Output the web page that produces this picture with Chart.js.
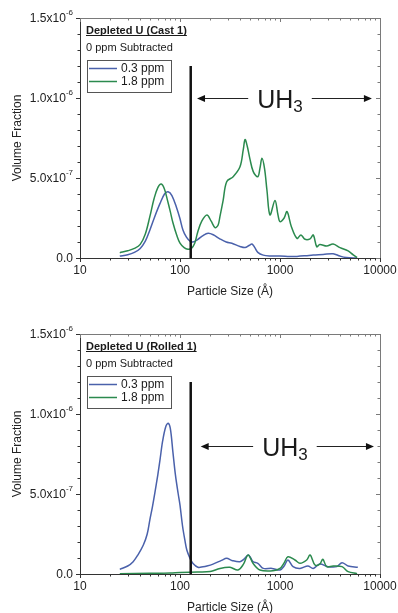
<!DOCTYPE html>
<html><head><meta charset="utf-8">
<script src="https://cdn.jsdelivr.net/npm/chart.js@4"></script>
<style>
html,body{margin:0;padding:0;background:#fff;width:398px;height:613px;overflow:hidden}
canvas{position:absolute;left:0}
</style></head><body>
<canvas id="c1" width="398" height="306" style="top:0"></canvas>
<canvas id="c2" width="398" height="307" style="top:306px"></canvas>
<script>
// ---------- data ----------
const seriesLabels = ['0.3 ppm', '1.8 ppm'];
const seriesColors = ['#4a61ab', '#2b8a4e'];
const panelTitles = ['Depleted U (Cast 1)', 'Depleted U (Rolled 1)'];
const subtitle = '0 ppm Subtracted';
const xTickValues = [10, 100, 1000, 10000];
const xTickLabels = ['10', '100', '1000', '10000'];
const yTickValues = [0, 5e-7, 1e-6, 1.5e-6];
const yTickMantissa = ['0.0', '5.0x10', '1.0x10', '1.5x10'];
const yTickExponent = ['', '-7', '-6', '-6'];
const xTitle = 'Particle Size (Å)';
const yTitle = 'Volume Fraction';
const UNIT = 1e-7; // values below are in units of 1e-7

// Cast 1, 0.3 ppm
const castSize03 = [25,30,35,40,45,50,56,63,70,76,83,93,100,107,116,126,135,150,170,191,215,250,290,330,398,447,490,525,560,600,680,794,1000,1250,1479,1800,2150,2700,3400,3980,4600,5900];
const castVol03  = [0.12,0.2,0.35,0.6,1.05,1.75,2.6,3.4,4.0,4.14,3.9,3.1,2.45,1.75,1.3,1.05,1.0,1.15,1.4,1.54,1.45,1.2,1.0,0.92,0.72,0.65,0.78,0.875,0.65,0.35,0.18,0.13,0.13,0.1,0.1,0.14,0.19,0.22,0.27,0.12,0.03,0.0];
// Cast 1, 1.8 ppm
const castSize18 = [25,30,35,40,45,50,55,60,65,70,75,80,85,93,100,110,120,130,140,150,165,186,205,224,240,251,270,293,340,398,430,447,470,500,540,600,630,660,700,740,794,891,955,1000,1100,1175,1300,1479,1620,1780,2000,2150,2330,2500,2930,3400,3980,4800,5400,5900];
const castVol18  = [0.33,0.45,0.6,0.85,1.5,2.6,3.7,4.4,4.62,4.3,3.6,2.9,2.2,1.4,0.93,0.65,0.55,0.6,0.9,1.6,2.3,2.69,2.3,1.9,2.05,2.6,3.6,4.77,5.08,5.7,6.8,7.4,7.0,6.2,5.4,5.08,5.6,6.23,5.6,4.25,2.69,3.6,2.69,2.27,2.5,2.9,1.96,1.23,1.44,1.17,1.2,1.44,0.7,0.85,0.75,0.875,0.65,0.44,0.2,0.03];
// Rolled 1, 0.3 ppm
const rolledSize03 = [25,30,34,38,43,47,50,53,56,60,63,67,72,76,80,85,90,96,100,106,112,117,126,135,151,170,186,214,260,293,330,398,440,480,510,537,600,680,830,1000,1100,1200,1350,1585,1900,2150,2500,3020,3700,4170,4800,6000];
const rolledVol03  = [0.29,0.5,0.77,1.2,1.81,2.5,3.4,4.2,5.06,6.2,7.1,8.3,9.2,9.42,9.1,7.6,6.2,5.0,4.3,3.0,2.1,1.5,0.98,0.65,0.42,0.45,0.5,0.62,0.85,0.98,0.85,0.77,0.95,1.19,1.0,0.77,0.67,0.35,0.35,0.25,0.5,0.875,0.46,0.35,0.5,0.35,0.62,0.46,0.46,0.71,0.5,0.42];
// Rolled 1, 1.8 ppm
const rolledSize18 = [25,50,80,100,150,200,251,316,380,430,480,537,630,850,1000,1100,1200,1410,1585,1850,2000,2240,2500,2680,2930,3400,4170,4800,5900];
const rolledVol18  = [0.02,0.04,0.06,0.1,0.12,0.15,0.35,0.42,0.25,0.6,1.19,0.67,0.25,0.2,0.35,0.7,1.08,0.875,0.67,0.875,1.19,0.56,0.62,0.92,0.46,0.5,0.46,0.15,0.02];

// annotation values
const dividerSize = 128;
const dividerTop = 1.2e-6;
const arrowLevel = [1.0e-6, 0.8e-6];
const arrowFrom = [148, 161];
const arrowTo = [8300, 8700];
const arrowLabelAt = [1000, 1120];

// ---------- drawing ----------
const FONT = '"Liberation Sans", Arial, Helvetica, sans-serif';

function decor(idx) {
  return {
    id: 'decor' + idx,
    afterDraw(chart) {
      const ctx = chart.ctx, xs = chart.scales.x, ys = chart.scales.y, a = chart.chartArea;
      const L = a.left, R = a.right, T = a.top, B = a.bottom;
      ctx.save();
      // frame
      ctx.lineWidth = 1;
      ctx.strokeStyle = '#7a7a7a';
      ctx.beginPath();
      ctx.moveTo(L, T + 0.5); ctx.lineTo(R + 0.5, T + 0.5); ctx.lineTo(R + 0.5, B);
      ctx.stroke();
      ctx.strokeStyle = '#333';
      ctx.beginPath();
      ctx.moveTo(L + 0.5, T); ctx.lineTo(L + 0.5, B + 0.5); ctx.lineTo(R + 1, B + 0.5);
      ctx.stroke();
      // x ticks
      for (let d = 10; d <= 10000; d *= 10) {
        for (let m = 1; m <= 9; m++) {
          const v = d * m;
          if (v > 10000) break;
          const px = Math.round(xs.getPixelForValue(v)) + 0.5;
          const major = m === 1;
          const len = major ? 4 : 2.5;
          ctx.strokeStyle = '#333';
          ctx.beginPath(); ctx.moveTo(px, B); ctx.lineTo(px, B + len); ctx.stroke();
          ctx.strokeStyle = '#7a7a7a';
          ctx.beginPath(); ctx.moveTo(px, T); ctx.lineTo(px, T + len); ctx.stroke();
        }
      }
      // y ticks
      for (let k = 0; k <= 15; k++) {
        const py = Math.round(ys.getPixelForValue(k * 1e-7)) + 0.5;
        const major = k % 5 === 0;
        const len = major ? 4 : 2.5;
        ctx.strokeStyle = '#333';
        ctx.beginPath(); ctx.moveTo(L - len, py); ctx.lineTo(L, py); ctx.stroke();
        ctx.strokeStyle = '#7a7a7a';
        ctx.beginPath(); ctx.moveTo(R - len, py); ctx.lineTo(R, py); ctx.stroke();
      }
      // x tick labels
      ctx.fillStyle = '#222';
      ctx.font = '12px ' + FONT;
      ctx.textAlign = 'center'; ctx.textBaseline = 'top';
      xTickValues.forEach((v, i) => ctx.fillText(xTickLabels[i], xs.getPixelForValue(v), B + 7));
      // y tick labels with superscript exponent
      yTickValues.forEach((v, i) => {
        const py = ys.getPixelForValue(v);
        ctx.font = '8px ' + FONT;
        const ew = yTickExponent[i] ? ctx.measureText(yTickExponent[i]).width : 0;
        const right = L - 7;
        ctx.textAlign = 'right'; ctx.textBaseline = 'middle';
        if (ew) ctx.fillText(yTickExponent[i], right, py - 5);
        ctx.font = '12px ' + FONT;
        ctx.fillText(yTickMantissa[i], right - ew, py + 0.5);
      });
      // axis titles
      ctx.font = '12px ' + FONT;
      ctx.textAlign = 'center'; ctx.textBaseline = 'alphabetic';
      ctx.fillText(xTitle, (L + R) / 2, B + 37);
      ctx.save();
      ctx.translate(21, (T + B) / 2);
      ctx.rotate(-Math.PI / 2);
      ctx.fillText(yTitle, 0, 0);
      ctx.restore();
      // divider
      const dx = xs.getPixelForValue(dividerSize);
      ctx.strokeStyle = '#111'; ctx.lineWidth = 2.5;
      ctx.beginPath();
      ctx.moveTo(dx, ys.getPixelForValue(0)); ctx.lineTo(dx, ys.getPixelForValue(dividerTop));
      ctx.stroke();
      // UH3 arrows
      const ay = Math.round(ys.getPixelForValue(arrowLevel[idx])) + 0.5;
      const x0 = xs.getPixelForValue(arrowFrom[idx]);
      const x1 = xs.getPixelForValue(arrowTo[idx]);
      const xc = xs.getPixelForValue(arrowLabelAt[idx]);
      ctx.font = '25px ' + FONT;
      const wUH = ctx.measureText('UH').width;
      ctx.font = '17px ' + FONT;
      const w3 = ctx.measureText('3').width;
      const tw = wUH + w3;
      const tl = xc - tw / 2;
      ctx.fillStyle = '#1a1a1a';
      ctx.textAlign = 'left'; ctx.textBaseline = 'alphabetic';
      ctx.font = '25px ' + FONT;
      ctx.fillText('UH', tl, ay + 9.5);
      ctx.font = '17px ' + FONT;
      ctx.fillText('3', tl + wUH, ay + 13);
      ctx.strokeStyle = '#222'; ctx.lineWidth = 1;
      ctx.beginPath();
      ctx.moveTo(x0 + 6, ay); ctx.lineTo(tl - 9, ay);
      ctx.moveTo(tl + tw + 9, ay); ctx.lineTo(x1 - 6, ay);
      ctx.stroke();
      ctx.fillStyle = '#111';
      ctx.beginPath();
      ctx.moveTo(x0, ay); ctx.lineTo(x0 + 8, ay - 3.5); ctx.lineTo(x0 + 8, ay + 3.5); ctx.closePath();
      ctx.moveTo(x1, ay); ctx.lineTo(x1 - 8, ay - 3.5); ctx.lineTo(x1 - 8, ay + 3.5); ctx.closePath();
      ctx.fill();
      // panel title (bold, underlined) and subtitle
      ctx.fillStyle = '#1a1a1a';
      ctx.font = 'bold 11px ' + FONT;
      ctx.textAlign = 'left'; ctx.textBaseline = 'alphabetic';
      const tx = L + 6, tb = T + 16;
      ctx.fillText(panelTitles[idx], tx, tb);
      const ttw = ctx.measureText(panelTitles[idx]).width;
      ctx.strokeStyle = '#1a1a1a'; ctx.lineWidth = 1;
      ctx.beginPath(); ctx.moveTo(tx, tb + 1.5); ctx.lineTo(tx + ttw, tb + 1.5); ctx.stroke();
      ctx.font = '11px ' + FONT;
      ctx.fillText(subtitle, tx, T + 33);
      // legend box
      const lx = L + 7, ly = T + 42;
      ctx.strokeStyle = '#555'; ctx.lineWidth = 1;
      ctx.strokeRect(lx + 0.5, ly + 0.5, 84, 32);
      ctx.font = '12px ' + FONT;
      ctx.textBaseline = 'middle';
      seriesLabels.forEach((lab, i) => {
        const yy = ly + 8.5 + i * 13;
        ctx.strokeStyle = seriesColors[i]; ctx.lineWidth = 1.5;
        ctx.beginPath(); ctx.moveTo(lx + 2, yy); ctx.lineTo(lx + 30, yy); ctx.stroke();
        ctx.fillStyle = '#1a1a1a';
        ctx.fillText(lab, lx + 34, yy + 0.5);
      });
      ctx.restore();
    }
  };
}

function toPoints(xsArr, vsArr) {
  return xsArr.map((x, j) => ({ x: x, y: vsArr[j] * UNIT }));
}

function makeChart(id, idx, series, pad) {
  return new Chart(document.getElementById(id), {
    type: 'line',
    data: {
      datasets: series.map((s, i) => ({
        label: seriesLabels[i],
        data: toPoints(s[0], s[1]),
        borderColor: seriesColors[i],
        borderWidth: 1.5,
        pointRadius: 0,
        tension: 0.35,
        fill: false,
        order: i === 0 ? 1 : 0
      }))
    },
    options: {
      responsive: false,
      animation: false,
      events: [],
      layout: { padding: pad },
      plugins: { legend: { display: false }, tooltip: { enabled: false } },
      scales: {
        x: { type: 'logarithmic', min: 10, max: 10000, display: false },
        y: { type: 'linear', min: 0, max: 1.5e-6, display: false }
      }
    },
    plugins: [decor(idx)]
  });
}

makeChart('c1', 0, [[castSize03, castVol03], [castSize18, castVol18]], { left: 80, top: 18, right: 18, bottom: 48 });
makeChart('c2', 1, [[rolledSize03, rolledVol03], [rolledSize18, rolledVol18]], { left: 80, top: 28, right: 18, bottom: 39 });
</script>
</body></html>
